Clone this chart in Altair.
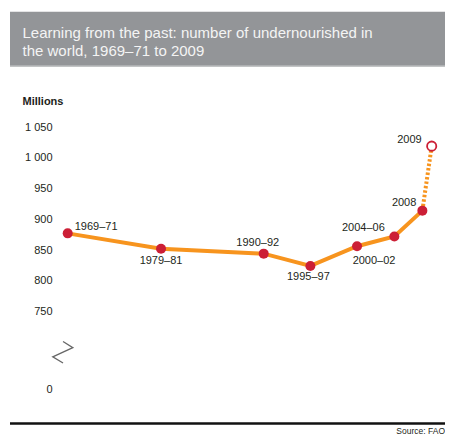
import altair as alt
import pandas as pd

# ---- data ----
periods = ["1969–71", "1979–81", "1990–92", "1995–97", "2000–02", "2004–06", "2008", "2009"]
years = [1970, 1980, 1991, 1996, 2001, 2005, 2008, 2009]
millions = [878, 853, 845, 825, 857, 873, 915, 1020]
tick_values = [623, 750, 800, 850, 900, 950, 1000, 1050]
tick_labels = ["0", "750", "800", "850", "900", "950", "1 000", "1 050"]
# axis-break zigzag (decoration) in data units
break_x = [1969.5, 1970.55, 1968.4, 1969.5]
break_y = [702, 692, 677, 667]

title_lines = ["Learning from the past: number of undernourished in",
               "the world, 1969\u201371 to 2009"]
source_text = "Source: FAO"

df = pd.DataFrame({"period": periods, "year": years, "value": millions})
df_solid = df.iloc[:7]
df_dot = df.iloc[6:]
df_break = pd.DataFrame({"bx": break_x, "by": break_y, "o": list(range(len(break_x)))})
df_ticks = pd.DataFrame({"value": tick_values, "lab": tick_labels})

ORANGE = "#F7941E"
RED = "#CC1F36"
INK = "#231f20"
FONT = "Liberation Sans"

xs = alt.Scale(domain=[1970, 2009], range=[59.7, 423.7], nice=False, zero=False)
ys = alt.Scale(domain=[623, 1050], range=[382, 119.7], nice=False, zero=False)

X = alt.X("year:Q", scale=xs, axis=None)
Y = alt.Y("value:Q", scale=ys, axis=None)

tick_text = alt.Chart(df_ticks).mark_text(
    font=FONT, fontSize=11, color=INK, align="right", baseline="middle"
).encode(x=alt.value(44.5), y=Y, text="lab:N")

line_solid = alt.Chart(df_solid).mark_line(color=ORANGE, strokeWidth=4).encode(x=X, y=Y)
line_dot = alt.Chart(df_dot).mark_line(color=ORANGE, strokeWidth=4, strokeDash=[2.5, 2]).encode(x=X, y=Y)

pts = alt.Chart(df_solid).mark_circle(color=RED, size=100, opacity=1).encode(x=X, y=Y)
pt_last = alt.Chart(df.iloc[7:]).mark_point(shape="circle", color=RED, fill="white",
                                            filled=False, size=85, strokeWidth=1.8, opacity=1).encode(x=X, y=Y)

brk = alt.Chart(df_break).mark_line(color="#666666", strokeWidth=1.3).encode(
    x=alt.X("bx:Q", scale=xs, axis=None), y=alt.Y("by:Q", scale=ys, axis=None), order="o:Q")

label_style = [  # (period, align, dx, dy)
    ("1969–71", "left", 7, -6),
    ("1979–81", "center", 0, 12),
    ("1990–92", "center", -6, -11),
    ("1995–97", "center", -2, 11),
    ("2000–02", "center", 17, 15),
    ("2004–06", "center", -31, -8),
    ("2008", "right", -6, -8),
    ("2009", "right", -10, -6),
]
labels = []
for p, al, dx, dy in label_style:
    labels.append(
        alt.Chart(df).transform_filter(alt.datum.period == p).mark_text(
            font=FONT, fontSize=11, color=INK, align=al, baseline="middle", dx=dx, dy=dy
        ).encode(x=X, y=Y, text="period:N"))

one = df.iloc[:1]
bar = alt.Chart(one).mark_rect(color="#939598").encode(
    x=alt.value(2), x2=alt.value(437), y=alt.value(3.7), y2=alt.value(57))
bar_edge = alt.Chart(one).mark_rect(color="#aeb0b2").encode(
    x=alt.value(2), x2=alt.value(437), y=alt.value(57), y2=alt.value(58.7))
t1 = alt.Chart(one).mark_text(font=FONT, fontSize=15, color="#f4f4f4", align="left",
                              baseline="alphabetic").encode(
    x=alt.value(14.5), y=alt.value(29.5), text=alt.value(title_lines[0]))
t2 = alt.Chart(one).mark_text(font=FONT, fontSize=15, color="#f4f4f4", align="left",
                              baseline="alphabetic").encode(
    x=alt.value(14.5), y=alt.value(47.5), text=alt.value(title_lines[1]))
mil = alt.Chart(one).mark_text(font=FONT, fontSize=11, fontWeight="bold", color=INK,
                               align="left", baseline="middle").encode(
    x=alt.value(14.5), y=alt.value(93.5), text=alt.value("Millions"))
rule = alt.Chart(one).mark_rule(color="#111111", strokeWidth=2.5).encode(
    x=alt.value(2), x2=alt.value(437), y=alt.value(415.5))
src = alt.Chart(one).mark_text(font=FONT, fontSize=8.5, color=INK, align="right",
                               baseline="alphabetic").encode(
    x=alt.value(437), y=alt.value(425.5), text=alt.value(source_text))

chart = alt.layer(
    bar, bar_edge, t1, t2, mil, tick_text, brk, line_solid, line_dot, pts, pt_last, *labels, rule, src
).properties(
    width=437, height=427, padding=0, autosize="none", background="white"
).configure_view(strokeWidth=0)

chart.save("out.html", embed_options={"renderer": "svg", "actions": False})
